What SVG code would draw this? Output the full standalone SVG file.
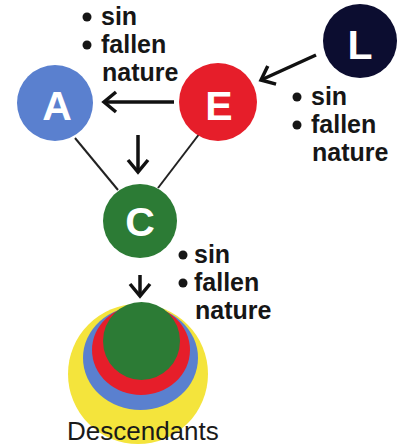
<svg xmlns="http://www.w3.org/2000/svg" width="406" height="447" viewBox="0 0 406 447">
<defs>
<style>
.lbl{font-family:"Liberation Sans",Arial,sans-serif;font-weight:bold;font-size:25px;fill:#161616}
.ltr{font-family:"Liberation Sans",Arial,sans-serif;font-weight:bold;font-size:41px;fill:#ffffff;text-anchor:middle}
.desc{font-family:"Liberation Sans",Arial,sans-serif;font-size:26px;fill:#1a1a1a}
.arrow{stroke:#111;stroke-width:3.5;fill:none;marker-end:url(#ah)}
.link{stroke:#222;stroke-width:2;fill:none}
.bul{fill:#161616}
</style>
<marker id="ah" markerUnits="userSpaceOnUse" markerWidth="24" markerHeight="24" refX="17" refY="12" orient="auto">
<path d="M5,2 L17,12 L5,22" fill="none" stroke="#111" stroke-width="3.5" stroke-linejoin="miter"/>
</marker>
</defs>
<rect width="406" height="447" fill="#ffffff"/>
<g id="connectors">
<line class="link" x1="75" y1="138" x2="118" y2="190"/>
<line class="link" x1="200" y1="133" x2="158" y2="188"/>
<line class="arrow" x1="174" y1="102" x2="104" y2="102"/>
<line class="arrow" x1="316" y1="55" x2="261" y2="80"/>
<line class="arrow" x1="138" y1="135" x2="138" y2="172"/>
<line class="arrow" x1="140" y1="275" x2="140" y2="296"/>
</g>
<g id="node-L">
<circle cx="360" cy="41" r="37" fill="#0c0d30"/>
<text class="ltr" x="360" y="59">L</text>
</g>
<g id="node-E">
<circle cx="218" cy="102" r="39" fill="#e61e2a"/>
<text class="ltr" x="219" y="120">E</text>
</g>
<g id="node-A">
<circle cx="55" cy="103" r="38" fill="#5a80cf"/>
<text class="ltr" x="57" y="120">A</text>
</g>
<g id="node-C">
<circle cx="140" cy="221" r="37" fill="#2c7b35"/>
<text class="ltr" x="140" y="236">C</text>
</g>
<g id="descendants">
<ellipse cx="138" cy="374" rx="70" ry="70" fill="#f4e43c"/>
<ellipse cx="140.5" cy="358" rx="57.5" ry="52" fill="#5a80cf"/>
<ellipse cx="141" cy="350" rx="49" ry="45" fill="#e61e2a"/>
<ellipse cx="141.5" cy="341" rx="38.5" ry="39" fill="#2c7b35"/>
<text class="desc" x="67" y="440">Descendants</text>
</g>
<g id="label-E">
<circle class="bul" cx="87" cy="17" r="4.5"/>
<circle class="bul" cx="87" cy="45" r="4.5"/>
<text class="lbl" x="101" y="25">sin</text>
<text class="lbl" x="101" y="53">fallen</text>
<text class="lbl" x="102" y="81">nature</text>
</g>
<g id="label-L">
<circle class="bul" cx="297" cy="97" r="4.5"/>
<circle class="bul" cx="297" cy="125" r="4.5"/>
<text class="lbl" x="311" y="105">sin</text>
<text class="lbl" x="311" y="133">fallen</text>
<text class="lbl" x="312" y="161">nature</text>
</g>
<g id="label-C">
<circle class="bul" cx="183" cy="255" r="4.5"/>
<circle class="bul" cx="183" cy="283" r="4.5"/>
<text class="lbl" x="194" y="263">sin</text>
<text class="lbl" x="194" y="291">fallen</text>
<text class="lbl" x="195" y="319">nature</text>
</g>
</svg>
